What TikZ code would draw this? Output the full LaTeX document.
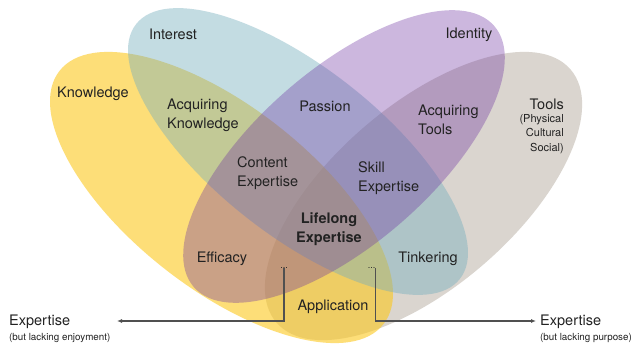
\documentclass[tikz,border=0pt]{standalone}
\usepackage{fontspec}
\setmainfont{TeX Gyre Heros}
\usetikzlibrary{arrows.meta}
\definecolor{yelC}{RGB}{252,200,30}
\definecolor{bluC}{RGB}{118,174,190}
\definecolor{purC}{RGB}{109,49,161}
\definecolor{graC}{RGB}{218,213,207}
\definecolor{txtC}{RGB}{34,34,34}
\definecolor{lnC}{RGB}{80,80,80}
\begin{document}
\begin{tikzpicture}[x=1pt,y=-1pt,
  lbl/.style={font=\fontsize{14.5}{19}\selectfont, text=txtC, inner sep=0pt},
  sublbl/.style={font=\fontsize{11}{14.5}\selectfont, text=txtC, inner sep=0pt},
  smalllbl/.style={font=\fontsize{9.8}{12}\selectfont, text=txtC, inner sep=0pt},
  dotlbl/.style={font=\fontsize{9}{10}\selectfont, text=txtC, inner sep=0pt},
  conn/.style={draw=lnC, line width=1.1pt, -{Latex[length=5pt,width=4pt]}}]
\useasboundingbox[fill=white] (0,0) rectangle (632,345);
% ellipses
\fill[graC, rotate around={40.7:(423.5,196)}] (423.5,196) ellipse [x radius=194pt, y radius=91pt];
\fill[yelC, fill opacity=0.6, rotate around={-38:(221.5,197.5)}] (221.5,197.5) ellipse [x radius=205.6pt, y radius=91.2pt];
\fill[bluC, fill opacity=0.43, rotate around={-38.2:(298,151.5)}] (298,151.5) ellipse [x radius=206pt, y radius=83.7pt];
\fill[purC, fill opacity=0.35, rotate around={41:(344,156.5)}] (344,156.5) ellipse [x radius=199pt, y radius=87.4pt];
% labels
\node[lbl] (interest) at (173,34.5) {Interest};
\node[lbl] (identity) at (469,34.5) {Identity};
\node[lbl] (knowledge) at (93,94) {Knowledge};
\node[lbl, align=left, anchor=west] (acqK) at (167,115.5) {Acquiring\\Knowledge};
\node[lbl] (passion) at (325,106) {Passion};
\node[lbl, align=left, anchor=west] (acqT) at (418,120) {Acquiring\\Tools};
\node[lbl, anchor=east] (tools) at (564,104.5) {Tools};
\node[sublbl, align=right, anchor=east] (toolsSub) at (564,134) {(Physical\\Cultural\\Social)};
\node[lbl, align=left, anchor=west] (content) at (237,173.5) {Content\\Expertise};
\node[lbl, align=left, anchor=west] (skill) at (358,178.5) {Skill\\Expertise};
\node[lbl, align=center, font=\fontsize{14.5}{19}\selectfont\bfseries] (lifelong) at (329,229) {Lifelong\\Expertise};
\node[lbl] (efficacy) at (222,259) {Efficacy};
\node[lbl] (tinkering) at (428,259) {Tinkering};
\node[lbl] (application) at (333,307) {Application};
\node[dotlbl, anchor=base] (dotsL) at (284,268) {...};
\node[dotlbl, anchor=base] (dotsR) at (371.5,268) {...};
\node[lbl, anchor=west] (expL) at (9,322) {Expertise};
\node[smalllbl, anchor=west] (expLsub) at (9,337.5) {(but lacking enjoyment)};
\node[lbl, anchor=west] (expR) at (540,322) {Expertise};
\node[smalllbl, anchor=west] (expRsub) at (540,337.5) {(but lacking purpose)};
\coordinate (tipL) at (117,321);
\coordinate (tipR) at (536,321);
% connectors
\draw[conn] (dotsL.south) |- (tipL);
\draw[conn] (dotsR.south east) |- (tipR);
\end{tikzpicture}
\end{document}
